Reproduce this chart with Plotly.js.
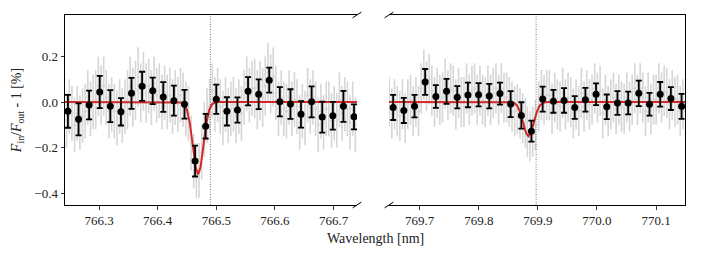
<!DOCTYPE html>
<html>
<head>
<meta charset="utf-8">
<script src="https://cdn.plot.ly/plotly-3.0.1.min.js"></script>
<style>html,body{margin:0;padding:0;background:#fff;}#chart{width:704px;height:257px;}</style>
</head>
<body>
<div id="chart"></div>
<script>
// ---- Binned data (black points) ----
const leftX = [766.2470,766.2651,766.2831,766.3012,766.3193,766.3374,766.3554,766.3735,766.3916,766.4096,766.4277,766.4458,766.4638,766.4819,766.5000,766.5181,766.5361,766.5542,766.5723,766.5903,766.6084,766.6265,766.6445,766.6626,766.6807,766.6988,766.7168,766.7349];
const leftY = [-0.041,-0.076,-0.013,0.044,-0.018,-0.043,0.038,0.069,0.049,0.022,0.006,-0.010,-0.259,-0.106,0.012,-0.041,-0.035,0.047,0.034,0.096,0.001,-0.009,-0.054,0.001,-0.066,-0.060,-0.019,-0.065];
const leftErr = [0.072,0.070,0.063,0.071,0.070,0.060,0.068,0.064,0.058,0.065,0.066,0.063,0.068,0.054,0.064,0.062,0.055,0.062,0.065,0.055,0.064,0.065,0.058,0.068,0.068,0.061,0.068,0.055];

const rightX = [769.6550,769.6731,769.6912,769.7092,769.7273,769.7454,769.7635,769.7816,769.7996,769.8177,769.8358,769.8539,769.8720,769.8890,769.9081,769.9262,769.9443,769.9624,769.9804,769.9985,770.0166,770.0347,770.0528,770.0708,770.0889,770.1070,770.1251,770.1432];
const rightY = [-0.024,-0.037,-0.018,0.088,0.024,0.047,0.021,0.031,0.032,0.026,0.037,-0.009,-0.059,-0.128,0.013,0.003,0.007,-0.024,0.010,0.034,-0.021,-0.004,-0.004,0.038,-0.010,0.034,0.015,-0.019];
const rightErr = [0.055,0.055,0.049,0.057,0.050,0.055,0.049,0.054,0.051,0.054,0.048,0.057,0.058,0.046,0.055,0.050,0.054,0.050,0.052,0.048,0.054,0.052,0.050,0.056,0.050,0.054,0.050,0.055];

// ---- Unbinned data (gray), four sub-points per bin ----
const grayOffsets = [-0.0068,-0.0023,0.0023,0.0068];
const grayLeft = [[-0.01,-0.08,-0.02,-0.05],[-0.10,-0.05,-0.09,-0.06],[-0.04,0.02,-0.03,0.00],[0.01,0.07,0.03,0.07],[0.02,-0.04,-0.01,-0.04],[-0.07,-0.02,-0.06,-0.02],[0.01,0.07,0.02,0.05],[0.11,0.04,0.09,0.04],[0.07,0.02,0.08,0.03],[0.05,0.00,0.04,0.00],[0.03,-0.02,0.02,-0.01],[0.03,0.01,-0.03,-0.05],[-0.18,-0.26,-0.30,-0.30],[-0.22,-0.12,-0.06,-0.02],[0.05,-0.01,0.03,-0.02],[-0.07,-0.01,-0.06,-0.03],[-0.01,-0.06,-0.02,-0.05],[0.02,0.08,0.03,0.06],[0.06,0.01,0.05,0.02],[0.07,0.13,0.08,0.11],[0.04,-0.03,0.02,-0.03],[-0.04,0.02,-0.03,0.01],[-0.02,-0.09,-0.04,-0.07],[0.03,-0.02,0.02,-0.03],[-0.10,-0.04,-0.09,-0.03],[-0.03,-0.08,-0.05,-0.08],[0.01,-0.05,-0.01,-0.03],[-0.09,-0.03,-0.10,-0.04]];
const grayLeftErr = [0.12,0.12,0.12,0.13,0.12,0.12,0.13,0.13,0.12,0.12,0.12,0.12,0.12,0.12,0.12,0.12,0.12,0.12,0.13,0.13,0.12,0.12,0.12,0.12,0.12,0.12,0.12,0.12];
const grayRight = [[0.00,-0.05,-0.01,-0.04],[-0.06,-0.01,-0.07,-0.01],[0.01,-0.04,0.00,-0.04],[0.06,0.12,0.07,0.10],[0.05,0.00,0.04,0.01],[0.02,0.08,0.03,0.06],[0.05,-0.01,0.04,0.00],[0.00,0.06,0.01,0.05],[0.06,0.01,0.05,0.01],[0.00,0.05,0.01,0.04],[0.06,0.01,0.06,0.02],[0.02,0.00,-0.02,-0.04],[-0.03,-0.05,-0.07,-0.09],[-0.13,-0.15,-0.13,-0.10],[-0.02,0.03,0.01,0.03],[0.03,-0.03,0.02,-0.01],[-0.02,0.04,-0.01,0.02],[0.00,-0.05,-0.01,-0.04],[0.04,-0.02,0.03,-0.01],[0.01,0.06,0.02,0.05],[-0.05,0.01,-0.04,-0.01],[0.02,-0.03,0.01,-0.02],[-0.03,0.02,-0.02,0.01],[0.06,0.01,0.06,0.02],[-0.04,0.02,-0.03,0.01],[0.01,0.06,0.02,0.05],[0.04,-0.01,0.03,0.00],[0.01,-0.04,-0.01,-0.04]];
const grayRightErr = [0.11,0.11,0.11,0.11,0.11,0.11,0.11,0.11,0.11,0.11,0.11,0.11,0.11,0.11,0.11,0.11,0.11,0.11,0.11,0.11,0.11,0.11,0.11,0.11,0.11,0.11,0.11,0.11];

// ---- Model (red) ----
const modelLeftX = [766.242,766.430,766.435,766.440,766.445,766.450,766.455,766.460,766.465,766.469,766.473,766.478,766.483,766.488,766.493,766.498,766.503,766.740];
const modelLeftY = [0,0,-0.0003,-0.0018,-0.009,-0.034,-0.095,-0.193,-0.288,-0.318,-0.288,-0.193,-0.095,-0.034,-0.009,-0.0018,-0.0003,0];
const modelRightX = [769.648,769.845,769.850,769.855,769.860,769.865,769.870,769.875,769.880,769.884,769.888,769.893,769.898,769.903,769.908,769.913,769.918,770.149];
const modelRightY = [0,0,-0.0001,-0.0008,-0.0043,-0.016,-0.045,-0.091,-0.136,-0.150,-0.136,-0.091,-0.045,-0.016,-0.0043,-0.0008,-0.0001,0];

// ---- Reference line positions (K I) ----
const lineCentres = [766.490, 769.897];

// ---- Axis settings ----
const leftRange = [766.242, 766.740];
const rightRange = [769.648, 770.149];
const yRange = [-0.452, 0.382];
const leftTicks = [766.3, 766.4, 766.5, 766.6, 766.7];
const rightTicks = [769.7, 769.8, 769.9, 770.0, 770.1];
const yTicks = [-0.4, -0.2, 0.0, 0.2];

function expand(xs, groups, offs) {
  const gx = [], gy = [];
  xs.forEach((x, i) => groups[i].forEach((v, j) => { gx.push(x + offs[j]); gy.push(v); }));
  return [gx, gy];
}
function expandErr(errs) { const o = []; errs.forEach(e => { for (let j = 0; j < 4; j++) o.push(e); }); return o; }

const [glx, gly] = expand(leftX, grayLeft, grayOffsets);
const [grx, gry] = expand(rightX, grayRight, grayOffsets);

const GRAY = 'rgb(214,214,214)';
const RED = '#d62728';
const traces = [];
function grayTrace(x, y, e, xa, ya) {
  return {x, y, xaxis: xa, yaxis: ya, mode: 'markers', type: 'scatter', hoverinfo: 'skip',
    marker: {color: GRAY, size: 3},
    error_y: {type: 'data', array: e, color: GRAY, thickness: 1.6, width: 0}};
}
function modelTrace(x, y, xa, ya) {
  return {x, y, xaxis: xa, yaxis: ya, mode: 'lines', type: 'scatter', line: {color: RED, width: 2}, hoverinfo: 'skip'};
}
function binTrace(x, y, e, xa, ya) {
  return {x, y, xaxis: xa, yaxis: ya, mode: 'markers', type: 'scatter', hoverinfo: 'skip',
    marker: {color: '#000', size: 7},
    error_y: {type: 'data', array: e, color: '#000', thickness: 1.8, width: 3}};
}
traces.push(grayTrace(glx, gly, expandErr(grayLeftErr), 'x', 'y'));
traces.push(grayTrace(grx, gry, expandErr(grayRightErr), 'x2', 'y2'));
traces.push(modelTrace(modelLeftX, modelLeftY, 'x', 'y'));
traces.push(modelTrace(modelRightX, modelRightY, 'x2', 'y2'));
traces.push(binTrace(leftX, leftY, leftErr, 'x', 'y'));
traces.push(binTrace(rightX, rightY, rightErr, 'x2', 'y2'));

const FONT = {family: '"Liberation Serif", "DejaVu Serif", serif', size: 13, color: '#222'};
const TFONT = {family: '"Liberation Serif", "DejaVu Serif", serif', size: 14, color: '#222'};
const L = 65, R = 19, W = 704;
const plotW = W - L - R;
const leftDom = [0, (357 - L) / plotW];
const rightDom = [(389 - L) / plotW, 1];

const axBase = {showgrid: false, zeroline: false, showline: true, linecolor: '#000', linewidth: 1,
  ticks: 'outside', ticklen: 3.5, tickwidth: 0.8, tickcolor: '#000', tickfont: FONT, fixedrange: true};

// break marks
const dx = 0.015 * (leftDom[1] - leftDom[0]);
const dy = 0.015;
const shapes = [];
function brk(cx, cy) {
  shapes.push({type: 'line', xref: 'paper', yref: 'paper', x0: cx - dx, x1: cx + dx, y0: cy - dy, y1: cy + dy,
    line: {color: '#000', width: 1}});
}
brk(leftDom[1], 1); brk(leftDom[1], 0); brk(rightDom[0], 1); brk(rightDom[0], 0);
shapes.push({type: 'line', xref: 'x', yref: 'y domain', x0: lineCentres[0], x1: lineCentres[0], y0: 0, y1: 1, line: {color: '#444', width: 0.7, dash: '1px,1.5px'}});
shapes.push({type: 'line', xref: 'x2', yref: 'y2 domain', x0: lineCentres[1], x1: lineCentres[1], y0: 0, y1: 1, line: {color: '#444', width: 0.7, dash: '1px,1.5px'}});

const layout = {
  width: 704, height: 257,
  margin: {l: L, r: R, t: 15, b: 52},
  paper_bgcolor: '#fff', plot_bgcolor: '#fff',
  showlegend: false,
  font: FONT,
  xaxis: Object.assign({}, axBase, {domain: leftDom, range: leftRange, tickvals: leftTicks, ticktext: leftTicks.map(v => v.toFixed(1)), mirror: true, anchor: 'y'}),
  xaxis2: Object.assign({}, axBase, {domain: rightDom, range: rightRange, tickvals: rightTicks, ticktext: rightTicks.map(v => v.toFixed(1)), mirror: true, anchor: 'y2'}),
  yaxis: Object.assign({}, axBase, {range: yRange, tickvals: yTicks, ticktext: yTicks.map(v => (v < 0 ? '\u2212' : '') + Math.abs(v).toFixed(1)), anchor: 'x',
    title: {text: '<i>F</i><sub>in</sub>/<i>F</i><sub>out</sub> - 1 [%]', font: TFONT, standoff: 9}}),
  yaxis2: Object.assign({}, axBase, {range: yRange, anchor: 'x2', side: 'right', ticks: '', showticklabels: false}),
  shapes: shapes,
  annotations: [{text: 'Wavelength [nm]', xref: 'paper', yref: 'paper', x: 0.5, y: (205 - 238) / 190, xanchor: 'center', yanchor: 'middle', showarrow: false, font: TFONT}]
};

Plotly.newPlot('chart', traces, layout, {displayModeBar: false, staticPlot: true});
</script>
</body>
</html>
